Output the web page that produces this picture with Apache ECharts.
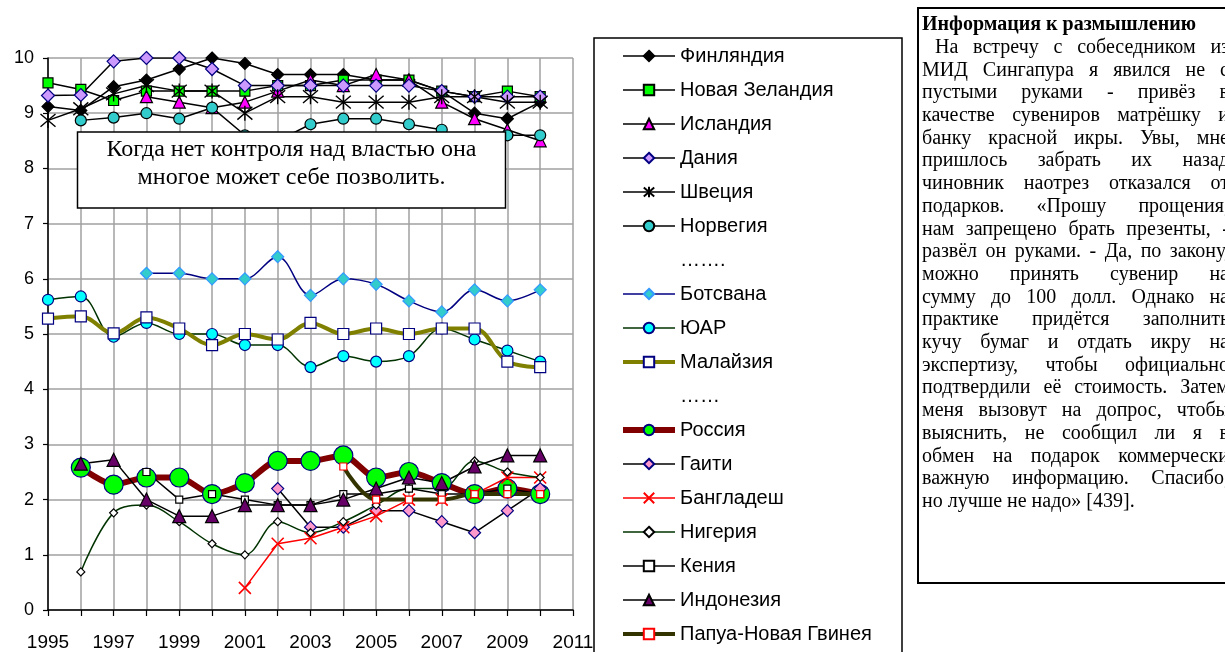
<!DOCTYPE html>
<html>
<head>
<meta charset="utf-8">
<script src="https://cdn.jsdelivr.net/npm/echarts@6/dist/echarts.min.js"></script>
<style>
  html, body { margin: 0; padding: 0; background: #fff; }
  #main { width: 1225px; height: 652px; }
</style>
</head>
<body>
<div id="main"></div>
<script>
// индекс восприятия коррупции, 1995-2010
var years = [1995, 1996, 1997, 1998, 1999, 2000, 2001, 2002, 2003, 2004, 2005, 2006, 2007, 2008, 2009, 2010];
var finland    = [9.12, 9.05, 9.48, 9.6, 9.8, 10.0, 9.9, 9.7, 9.7, 9.7, 9.6, 9.6, 9.4, 9.0, 8.9, 9.2];
var newZealand = [9.55, 9.43, 9.23, 9.4, 9.4, 9.4, 9.4, 9.5, 9.5, 9.6, 9.6, 9.6, 9.4, 9.3, 9.4, 9.3];
var iceland    = [null, null, null, 9.3, 9.2, 9.1, 9.2, 9.4, 9.6, 9.5, 9.7, 9.6, 9.2, 8.9, 8.7, 8.5];
var denmark    = [9.32, 9.33, 9.94, 10.0, 10.0, 9.8, 9.5, 9.5, 9.5, 9.5, 9.5, 9.5, 9.4, 9.3, 9.3, 9.3];
var sweden     = [8.87, 9.08, 9.35, 9.5, 9.4, 9.4, 9.0, 9.3, 9.3, 9.2, 9.2, 9.2, 9.3, 9.3, 9.2, 9.2];
var norway     = [null, 8.87, 8.92, 9.0, 8.9, 9.1, 8.6, 8.5, 8.8, 8.9, 8.9, 8.8, 8.7, 7.9, 8.6, 8.6];
var botswana   = [null, null, null, 6.1, 6.1, 6.0, 6.0, 6.4, 5.7, 6.0, 5.9, 5.6, 5.4, 5.8, 5.6, 5.8];
var southAfrica= [5.62, 5.68, 4.95, 5.2, 5.0, 5.0, 4.8, 4.8, 4.4, 4.6, 4.5, 4.6, 5.1, 4.9, 4.7, 4.5];
var malaysia   = [5.28, 5.32, 5.01, 5.3, 5.1, 4.8, 5.0, 4.9, 5.2, 5.0, 5.1, 5.0, 5.1, 5.1, 4.5, 4.4];
var russia     = [null, 2.58, 2.27, 2.4, 2.4, 2.1, 2.3, 2.7, 2.7, 2.8, 2.4, 2.5, 2.3, 2.1, 2.2, 2.1];
var haiti      = [null, null, null, null, null, null, null, 2.2, 1.5, 1.5, 1.8, 1.8, 1.6, 1.4, 1.8, 2.2];
var bangladesh = [null, null, null, null, null, null, 0.4, 1.2, 1.3, 1.5, 1.7, 2.0, 2.0, 2.1, 2.4, 2.4];
var nigeria    = [null, 0.69, 1.76, 1.9, 1.6, 1.2, 1.0, 1.6, 1.4, 1.6, 1.9, 2.2, 2.2, 2.7, 2.5, 2.4];
var kenya      = [null, null, null, 2.5, 2.0, 2.1, 2.0, 1.9, 1.9, 2.1, 2.1, 2.2, 2.1, 2.1, 2.2, 2.1];
var indonesia  = [null, 2.65, 2.72, 2.0, 1.7, 1.7, 1.9, 1.9, 1.9, 2.0, 2.2, 2.4, 2.3, 2.6, 2.8, 2.8];
var png        = [null, null, null, null, null, null, null, null, null, 2.6, 2.0, 2.0, 2.0, 2.1, 2.1, 2.1];

var yTicks = [0, 1, 2, 3, 4, 5, 6, 7, 8, 9, 10];

var noteLines = ['Когда нет контроля над властью она', 'многое может себе позволить.'];

var infoTitle = 'Информация к размышлению';
var infoLines = [
  'На встречу с собеседником из',
  'МИД Сингапура я явился не с',
  'пустыми руками - привёз в',
  'качестве сувениров матрёшку и',
  'банку красной икры. Увы, мне',
  'пришлось забрать их назад',
  'чиновник наотрез отказался от',
  'подарков. «Прошу прощения,',
  'нам запрещено брать презенты, -',
  'развёл он руками. - Да, по закону,',
  'можно принять сувенир на',
  'сумму до 100 долл. Однако на',
  'практике придётся заполнить',
  'кучу бумаг и отдать икру на',
  'экспертизу, чтобы официально',
  'подтвердили её стоимость. Затем',
  'меня вызовут на допрос, чтобы',
  'выяснить, не сообщил ли я в',
  'обмен на подарок коммерчески',
  'важную информацию. Спасибо,',
  'но лучше не надо» [439].'
];

function pairs(arr) {
  return years.map(function (y, i) { return [y, arr[i]]; });
}

function mk(name, arr, o) {
  return {
    name: name,
    type: 'line',
    data: pairs(arr),
    smooth: o.smooth || false,
    symbol: o.symbol,
    symbolSize: o.size,
    showAllSymbol: true,
    lineStyle: { color: o.line, width: o.width || 1.5 },
    itemStyle: { color: o.fill, borderColor: o.border, borderWidth: o.bw || 1.2 },
    emphasis: { disabled: true }
  };
}

var ASTERISK = 'path://M0 0L12 12M12 0L0 12M6 -1L6 13';
var CROSS = 'path://M0 0L10 10M10 0L0 10';

var series = [
  mk('Финляндия', finland, { line: '#000', symbol: 'diamond', size: 12, fill: '#000', border: '#000' }),
  mk('Новая Зеландия', newZealand, { line: '#000', symbol: 'rect', size: 10, fill: '#00ff00', border: '#000' }),
  mk('Исландия', iceland, { line: '#000', symbol: 'triangle', size: 12, fill: '#ff00ff', border: '#000' }),
  mk('Дания', denmark, { line: '#000', symbol: 'diamond', size: 13, fill: '#cc99ff', border: '#000080' }),
  mk('Швеция', sweden, { line: '#000', symbol: ASTERISK, size: 15, fill: 'rgba(0,0,0,0)', border: '#000', bw: 1.4 }),
  mk('Норвегия', norway, { line: '#000', symbol: 'circle', size: 11, fill: '#33cccc', border: '#000' }),
  { name: '…….', type: 'scatter', data: [], symbol: 'none' },
  mk('Ботсвана', botswana, { line: '#000080', symbol: 'diamond', size: 12, fill: '#33cccc', border: '#3399ff', smooth: 0.35 }),
  mk('ЮАР', southAfrica, { line: '#003300', symbol: 'circle', size: 11, fill: '#00ffff', border: '#000080', smooth: 0.35 }),
  mk('Малайзия', malaysia, { line: '#808000', width: 4, symbol: 'rect', size: 11, fill: '#fff', border: '#000080', smooth: 0.35 }),
  { name: '……', type: 'scatter', data: [], symbol: 'none' },
  mk('Россия', russia, { line: '#800000', width: 6, symbol: 'circle', size: 19, fill: '#00ff00', border: '#000080', smooth: 0.25 }),
  mk('Гаити', haiti, { line: '#000', symbol: 'diamond', size: 12, fill: '#ff99cc', border: '#000080' }),
  mk('Бангладеш', bangladesh, { line: '#ff0000', symbol: CROSS, size: 12, fill: 'rgba(0,0,0,0)', border: '#ff0000', bw: 1.6 }),
  mk('Нигерия', nigeria, { line: '#003300', symbol: 'diamond', size: 8, fill: '#fff', border: '#000', smooth: 0.35 }),
  mk('Кения', kenya, { line: '#000', symbol: 'rect', size: 7, fill: '#fff', border: '#000' }),
  mk('Индонезия', indonesia, { line: '#000', symbol: 'triangle', size: 13, fill: '#660066', border: '#000' }),
  mk('Папуа-Новая Гвинея', png, { line: '#333300', width: 4, symbol: 'rect', size: 7, fill: '#fff', border: '#ff0000', smooth: 0.35 })
];

var legendData = series.map(function (s) {
  return s.type === 'scatter' ? { name: s.name, icon: 'none' } : { name: s.name };
});

// правый текстовый блок: строки выравниваются по ширине
var measure = document.createElement('canvas').getContext('2d');
var INFO_FONT = '20px "Liberation Serif"';
measure.font = INFO_FONT;
var infoX0 = 922, infoX1 = 1229, infoTop = 25, infoStep = 22.7;
var infoEls = [{
  type: 'text', x: infoX0, y: infoTop,
  style: { text: infoTitle, font: 'bold 20px "Liberation Serif"', fill: '#000', verticalAlign: 'middle' }
}];
infoLines.forEach(function (line, i) {
  var y = infoTop + (i + 1) * infoStep;
  var x0 = i === 0 ? infoX0 + 13 : infoX0;
  var words = line.split(' ');
  var last = i === infoLines.length - 1;
  if (last) {
    infoEls.push({ type: 'text', x: x0, y: y, style: { text: line, font: INFO_FONT, fill: '#000', verticalAlign: 'middle' } });
    return;
  }
  var wsum = 0;
  words.forEach(function (w) { wsum += measure.measureText(w).width; });
  var gap = (infoX1 - x0 - wsum) / (words.length - 1);
  var x = x0;
  words.forEach(function (w) {
    infoEls.push({ type: 'text', x: x, y: y, style: { text: w, font: INFO_FONT, fill: '#000', verticalAlign: 'middle' } });
    x += measure.measureText(w).width + gap;
  });
});

var chart = echarts.init(document.getElementById('main'));
chart.setOption({
  animation: false,
  backgroundColor: '#fff',
  grid: { left: 48, top: 58, right: 652, bottom: 38.5 },
  xAxis: {
    type: 'value', min: 1995, max: 2011, interval: 1,
    axisLine: { lineStyle: { color: '#000', width: 1.5 } },
    axisTick: { length: 6, lineStyle: { color: '#000', width: 1.2 } },
    axisLabel: {
      margin: 23, color: '#000', fontSize: 19, fontFamily: 'Liberation Sans',
      formatter: function (v) { return (v - 1995) % 2 === 0 ? String(v) : ''; }
    },
    splitLine: { lineStyle: { color: '#a0a0a0', width: 1.5 } }
  },
  yAxis: {
    type: 'value', min: yTicks[0], max: yTicks[yTicks.length - 1], interval: 1,
    axisLine: { show: true, lineStyle: { color: '#000', width: 1.5 } },
    axisTick: { show: true, length: 5, lineStyle: { color: '#000', width: 1.2 } },
    axisLabel: { margin: 14, color: '#000', fontSize: 18, fontFamily: 'Liberation Sans' },
    splitLine: { lineStyle: { color: '#a0a0a0', width: 1.5 } }
  },
  legend: {
    orient: 'vertical',
    left: 620, top: 46,
    padding: 0,
    itemWidth: 52, itemHeight: 13, itemGap: 14,
    lineStyle: { width: 'inherit' },
    textStyle: { fontSize: 20, lineHeight: 20, color: '#000', fontFamily: 'Liberation Sans' },
    selectedMode: false,
    data: legendData
  },
  series: series,
  graphic: [
    {
      type: 'rect', z: -1, silent: true,
      shape: { x: 594, y: 38, width: 308, height: 700 },
      style: { fill: '#fff', stroke: '#000', lineWidth: 1.5 }
    },
    { type: 'rect', z: 100, silent: true, shape: { x: 77.5, y: 132, width: 428, height: 76 }, style: { fill: '#fff', stroke: '#000', lineWidth: 1.5 } },
    { type: 'text', z: 101, silent: true, x: 291.5, y: 150, style: { text: noteLines[0], font: '24px "Liberation Serif"', fill: '#000', align: 'center', verticalAlign: 'middle' } },
    { type: 'text', z: 101, silent: true, x: 291.5, y: 178, style: { text: noteLines[1], font: '24px "Liberation Serif"', fill: '#000', align: 'center', verticalAlign: 'middle' } },
    {
      type: 'group', silent: true,
      children: [
        { type: 'rect', shape: { x: 918, y: 8, width: 330, height: 575 }, style: { fill: '#fff', stroke: '#000', lineWidth: 2 } }
      ].concat(infoEls)
    }
  ]
});
</script>
</body>
</html>
